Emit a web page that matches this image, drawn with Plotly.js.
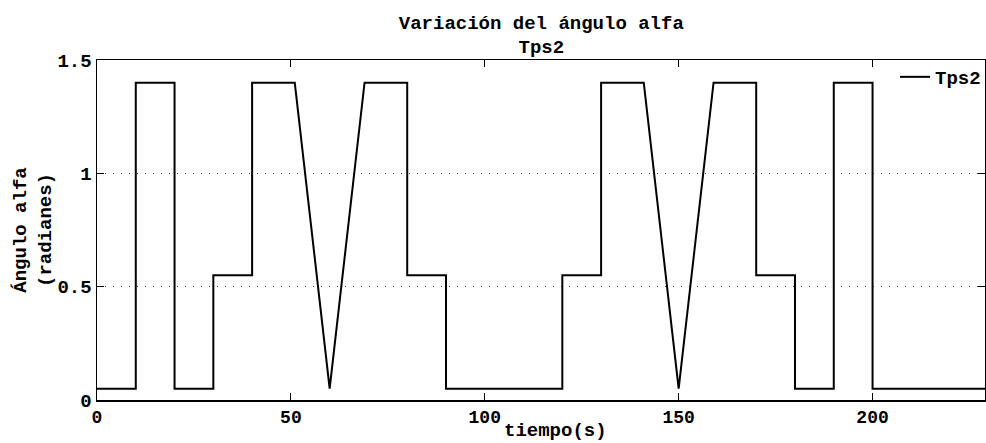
<!DOCTYPE html>
<html><head><meta charset="utf-8">
<script src="https://cdn.plot.ly/plotly-3.0.1.min.js"></script>
<style>html,body{margin:0;padding:0;background:#fff;}#chart{width:986px;height:443px;}</style>
</head><body><div id="chart"></div>
<script>
// time (s) and angle alfa (radians)
const tiempo = [0, 10, 10, 20, 20, 30, 30, 40, 40, 51, 60, 69, 80, 80, 90, 90, 120, 120, 130, 130, 141, 150, 159, 170, 170, 180, 180, 190, 190, 200, 200, 230];
const alfa   = [0.05, 0.05, 1.4, 1.4, 0.05, 0.05, 0.55, 0.55, 1.4, 1.4, 0.05, 1.4, 1.4, 0.55, 0.55, 0.05, 0.05, 0.55, 0.55, 1.4, 1.4, 0.05, 1.4, 1.4, 0.55, 0.55, 0.05, 0.05, 1.4, 1.4, 0.05, 0.05];
const xTicks = [0, 50, 100, 150, 200];
const yTicks = [0, 0.5, 1, 1.5];
const yTickText = ['0', '0.5', '1', '1.5'];
const xTitle = 'tiempo(s)';

const FONT = 'Liberation Mono, Courier New, monospace';
const FS = 19;
const trace = {
  x: tiempo, y: alfa, type: 'scatter', mode: 'lines', name: 'Tps2',
  line: {color: '#000', width: 2}
};
const layout = {
  width: 986, height: 443,
  margin: {l: 97, r: 0, t: 60, b: 43},
  paper_bgcolor: '#fff', plot_bgcolor: '#fff',
  font: {family: FONT, size: FS, color: '#000', weight: 'bold'},
  title: {text: 'Variación del ángulo alfa<br>Tps2', x: 0.549, xanchor: 'center', y: 0.935, yanchor: 'top', yref: 'container',
          font: {family: FONT, size: FS, color: '#000', weight: 'bold'}},
  xaxis: {
    range: [0, 229], tickvals: xTicks, ticks: 'inside', ticklen: 7, tickcolor: '#000',
    showline: true, linecolor: '#000', linewidth: 1.5, mirror: 'ticks', showgrid: false, zeroline: false,
    tickfont: {family: FONT, size: 18, weight: 'bold'}
  },
  yaxis: {
    range: [0, 1.5], tickvals: yTicks, ticktext: yTickText, ticks: 'inside', ticklen: 7, tickcolor: '#000',
    showline: true, linecolor: '#000', linewidth: 1.5, mirror: 'ticks',
    showgrid: true, gridcolor: '#444', griddash: '1px,7px', gridwidth: 1, zeroline: false,
    tickfont: {family: FONT, size: FS, weight: 'bold'},
    title: {text: 'Ángulo alfa<br>(radianes)', standoff: 1, font: {family: FONT, size: FS, weight: 'bold'}}
  },
  annotations: [{
    text: xTitle, xref: 'paper', yref: 'paper', x: 0.516, y: -0.1255, xanchor: 'center', yanchor: 'bottom',
    borderpad: 0, showarrow: false, font: {family: FONT, size: FS, weight: 'bold', color: '#000'}
  }],
  showlegend: true,
  legend: {x: 0.899, y: 0.95, xanchor: 'left', yanchor: 'middle', bgcolor: 'rgba(0,0,0,0)', borderwidth: 0,
           font: {family: FONT, size: FS, weight: 'bold'}}
};
Plotly.newPlot('chart', [trace], layout, {displayModeBar: false, staticPlot: true});
</script></body></html>
